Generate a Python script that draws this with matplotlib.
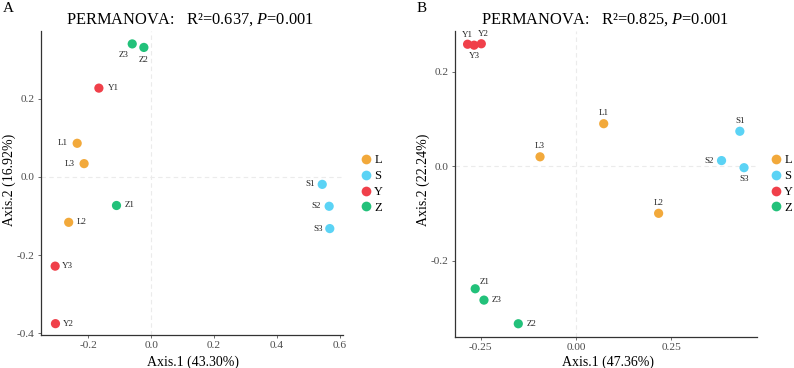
import matplotlib
matplotlib.use("Agg")
import matplotlib.pyplot as plt
from matplotlib.lines import Line2D

plt.rcParams['font.family'] = ['Liberation Serif', 'DejaVu Serif']
plt.rcParams['mathtext.fontset'] = 'custom'
plt.rcParams['mathtext.rm'] = 'Liberation Serif'
plt.rcParams['mathtext.it'] = 'Liberation Serif:italic'

groups = ['L', 'S', 'Y', 'Z']
group_colors = {'L': '#F2A93B', 'S': '#5BD3F5', 'Y': '#F0404A', 'Z': '#22C17A'}

# Panel A
samples_a = ['L1', 'L2', 'L3', 'S1', 'S2', 'S3', 'Y1', 'Y2', 'Y3', 'Z1', 'Z2', 'Z3']
x_a = [-0.235, -0.262, -0.213, 0.544, 0.566, 0.568, -0.166, -0.304, -0.305, -0.110, -0.023, -0.060]
y_a = [0.086, -0.116, 0.034, -0.019, -0.075, -0.132, 0.227, -0.375, -0.228, -0.073, 0.331, 0.340]
title_a = 'PERMANOVA:   R\u00b2=0.637, $\\it{P}$=0.001'
xlabel_a = 'Axis.1 (43.30%)'
ylabel_a = 'Axis.2 (16.92%)'
xticks_a = [-0.2, 0.0, 0.2, 0.4, 0.6]
xticklabels_a = ['-0.2', '0.0', '0.2', '0.4', '0.6']
yticks_a = [-0.4, -0.2, 0.0, 0.2]
yticklabels_a = ['-0.4', '-0.2', '0.0', '0.2']

# Panel B
samples_b = ['L1', 'L2', 'L3', 'S1', 'S2', 'S3', 'Y1', 'Y2', 'Y3', 'Z1', 'Z2', 'Z3']
x_b = [0.073, 0.217, -0.094, 0.430, 0.382, 0.441, -0.284, -0.248, -0.267, -0.264, -0.151, -0.241]
y_b = [0.090, -0.0995, 0.020, 0.074, 0.012, -0.003, 0.258, 0.259, 0.256, -0.259, -0.333, -0.283]
title_b = 'PERMANOVA:   R\u00b2=0.825, $\\it{P}$=0.001'
xlabel_b = 'Axis.1 (47.36%)'
ylabel_b = 'Axis.2 (22.24%)'
xticks_b = [-0.25, 0.0, 0.25]
xticklabels_b = ['-0.25', '0.00', '0.25']
yticks_b = [-0.2, 0.0, 0.2]
yticklabels_b = ['-0.2', '0.0', '0.2']

# label offsets in pixels (dx right, dy up)
off_a = {'L1': (-14, 0), 'L2': (13, 0), 'L3': (-14, 0), 'S1': (-12, 0), 'S2': (-13, 0),
         'S3': (-12, 0), 'Y1': (14, 0), 'Y2': (12.5, 0), 'Y3': (12.5, 0), 'Z1': (13, 0),
         'Z2': (0, -12.5), 'Z3': (-9, -11)}
off_b = {'L1': (0, 10.5), 'L2': (0, 10.5), 'L3': (0, 10.5), 'S1': (0, 10.5), 'S2': (-12.5, 0),
         'S3': (0, -11.5), 'Y1': (0, 9.5), 'Y2': (2, 9.5), 'Y3': (0, -10.5), 'Z1': (9, 6.5),
         'Z2': (13, 0), 'Z3': (12.5, 0)}

fig = plt.figure(figsize=(7.94, 3.68), dpi=100)
W, H = 794, 368

def px_axes(l, t, r, b):
    return fig.add_axes([l / W, 1 - b / H, (r - l) / W, (b - t) / H])

def draw(ax, samples, xs, ys, offs, xlim, ylim, xt, xtl, yt, ytl):
    ax.axhline(0, color='#EBEBEB', lw=0.8, ls=(0, (4, 3)), zorder=0)
    ax.axvline(0, color='#EBEBEB', lw=0.8, ls=(0, (4, 3)), zorder=0)
    cols = [group_colors[s[0]] for s in samples]
    ax.scatter(xs, ys, s=44, c=cols, edgecolors='none', zorder=3)
    for s, x, y in zip(samples, xs, ys):
        dx, dy = offs[s]
        ax.annotate(s, (x, y), xytext=(dx, dy), textcoords='offset pixels',
                    ha='center', va='center', fontsize=6.5, color='#222222')
    ax.set_xlim(*xlim)
    ax.set_ylim(*ylim)
    ax.set_xticks(xt)
    ax.set_xticklabels(xtl)
    ax.set_yticks(yt)
    ax.set_yticklabels(ytl)
    for sp in ['top', 'right']:
        ax.spines[sp].set_visible(False)
    for sp in ['left', 'bottom']:
        ax.spines[sp].set_color('#333333')
        ax.spines[sp].set_linewidth(0.9)
    ax.tick_params(length=2.5, width=0.6, color='#555555', labelsize=8.2,
                   labelcolor='#4D4D4D', pad=2)

ax_a = px_axes(41, 31, 343, 335)
draw(ax_a, samples_a, x_a, y_a, off_a, (-0.35, 0.61), (-0.404, 0.373),
     xticks_a, xticklabels_a, yticks_a, yticklabels_a)
ax_b = px_axes(455, 31, 757, 337)
draw(ax_b, samples_b, x_b, y_b, off_b, (-0.317, 0.475), (-0.361, 0.286),
     xticks_b, xticklabels_b, yticks_b, yticklabels_b)

# titles, axis labels, panel letters
fig.text(190 / W, 1 - 20 / H, title_a, ha='center', va='center', fontsize=11.8)
fig.text(605 / W, 1 - 20 / H, title_b, ha='center', va='center', fontsize=11.8)
fig.text(193 / W, 1 - 362 / H, xlabel_a, ha='center', va='center', fontsize=10)
fig.text(608 / W, 1 - 362 / H, xlabel_b, ha='center', va='center', fontsize=10)
fig.text(9 / W, 1 - 180 / H, ylabel_a, ha='center', va='center', rotation=90, fontsize=10)
fig.text(423 / W, 1 - 180 / H, ylabel_b, ha='center', va='center', rotation=90, fontsize=10)
fig.text(8 / W, 1 - 9 / H, 'A', ha='center', va='center', fontsize=11)
fig.text(422 / W, 1 - 9 / H, 'B', ha='center', va='center', fontsize=11)

handles = [Line2D([], [], marker='o', ls='none', markersize=7, markeredgewidth=0,
                  color=group_colors[g]) for g in groups]
for lx in (360, 770):
    fig.legend(handles, groups, loc='center left', bbox_to_anchor=(lx / W, 1 - 184 / H),
               frameon=False, fontsize=9, handlelength=1.0, handletextpad=0.15,
               labelspacing=0.3, borderpad=0, borderaxespad=0)

fig.savefig('out.png', dpi=100)
